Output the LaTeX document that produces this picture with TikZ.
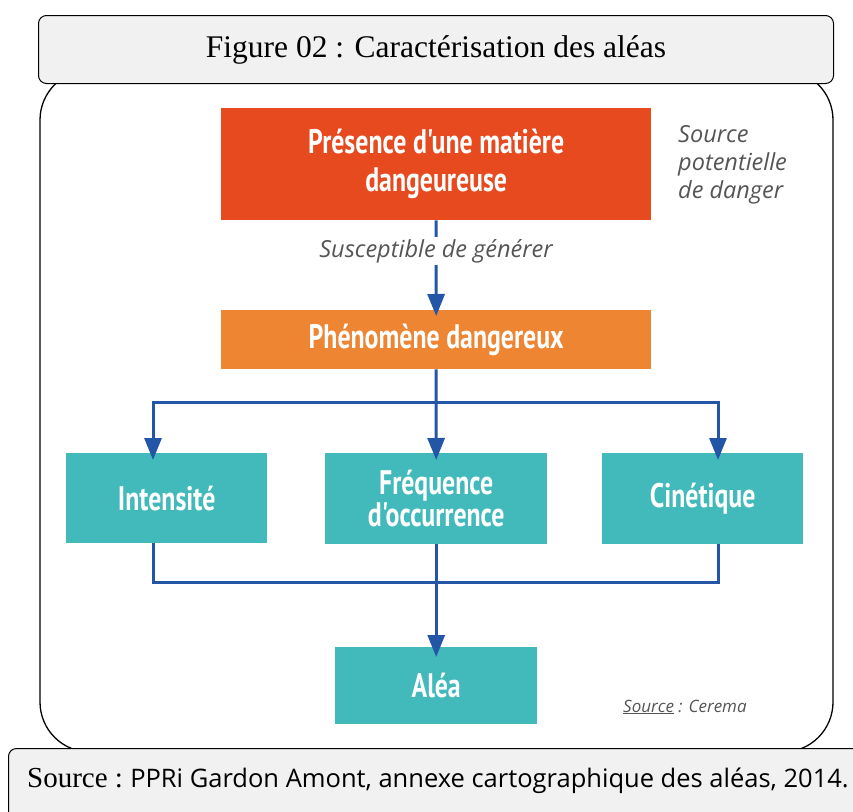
\documentclass[tikz,border=0pt]{standalone}
\usepackage{fontspec}
\setmainfont{Liberation Serif}
\newfontfamily\boxfont[FakeStretch=0.76]{PT Sans}
\newfontfamily\notefont{Open Sans}
\newfontfamily\captionfont{Open Sans}
\usetikzlibrary{arrows.meta}
\definecolor{hazard}{RGB}{230,74,30}
\definecolor{phenom}{RGB}{238,133,51}
\definecolor{teal}{RGB}{66,185,186}
\definecolor{flow}{RGB}{35,86,166}
\definecolor{panel}{RGB}{241,241,241}
\definecolor{note}{RGB}{85,85,85}
\tikzset{
  block/.style={draw=none, inner sep=0pt, align=center, text=white,
    font=\boxfont\bfseries\fontsize{34}{38}\selectfont},
  flowline/.style={draw=flow, line width=3pt},
  flowarrow/.style={flowline, -{Triangle[length=22pt,width=17pt]}},
  remark/.style={font=\notefont\itshape\fontsize{23.5}{28}\selectfont, text=note, inner sep=0pt},
}
\begin{document}
\begin{tikzpicture}[x=1pt,y=-1pt]
\useasboundingbox (0,0) rectangle (853,811);
% outer frame
\draw[line width=1.3pt, rounded corners=50pt] (40,70) rectangle (833,752);
% title banner
\node[draw, line width=1pt, fill=panel, rounded corners=8pt, minimum width=795pt, minimum height=68pt,
  inner sep=0pt, anchor=north west, font=\fontsize{31.5}{34}\selectfont] (title) at (38,15)
  {Figure 02 : Caractérisation des aléas};
% boxes
\node[block, fill=hazard, minimum width=430pt, minimum height=112pt, anchor=north west] (src) at (221,108)
  {Présence d'une matière\\dangeureuse};
\node[block, fill=phenom, minimum width=430pt, minimum height=59pt, anchor=north west] (phen) at (221,310)
  {Phénomène dangereux};
\node[block, fill=teal, minimum width=201pt, minimum height=90pt, anchor=north west] (int) at (66,453)
  {Intensité};
\node[block, fill=teal, minimum width=222pt, minimum height=91pt, anchor=north west,
  font=\boxfont\bfseries\fontsize{34}{29}\selectfont] (freq) at (325,453)
  {Fréquence\\d'occurrence};
\node[block, fill=teal, minimum width=201pt, minimum height=91pt, anchor=north west] (cin) at (602,453)
  {Cinétique};
\node[block, fill=teal, minimum width=202pt, minimum height=77pt, anchor=north west] (alea) at (335,647)
  {Aléa};
% side notes
\node[remark, align=left, anchor=north west] (danger) at (678,125) {Source\\potentielle\\de danger};
\node[remark, fill=white, inner sep=2pt] (gen) at (436,251) {Susceptible de générer};
\node[remark, font=\notefont\itshape\fontsize{17}{20}\selectfont, anchor=west] (cerema) at (623,707)
  {\underline{Source} : Cerema};
% connectors
\coordinate (split) at (436,402);
\coordinate (joinl) at (153,582);
\coordinate (joinr) at (718,582);
\draw[flowline] (src.south) -- (gen.north);
\draw[flowarrow] (gen.south) -- ([yshift=-6pt]phen.north);
\draw[flowline] (phen.south) -- (split);
\draw[flowarrow] (split) -- ([yshift=-7pt]freq.north);
\draw[flowarrow] (split) -| ([yshift=-7pt]int.north -| joinl);
\draw[flowarrow] (split) -| ([yshift=-7pt]cin.north -| joinr);
\draw[flowline] (int.south -| joinl) |- (joinr) -- (cin.south -| joinr);
\draw[flowarrow] (freq.south) -- ([yshift=-10pt]alea.north);
% caption banner
\node[draw, line width=1pt, fill=panel, rounded corners=8pt, minimum width=860pt, minimum height=80pt,
  inner sep=0pt, anchor=north west] (caption) at (8,748) {};
\node[anchor=west, inner sep=0pt] (captext) at (27,781)
  {\fontsize{29}{32}\selectfont Source :\ \captionfont\fontsize{25.5}{30}\selectfont PPRi Gardon Amont, annexe cartographique des aléas, 2014.};
\end{tikzpicture}
\end{document}
